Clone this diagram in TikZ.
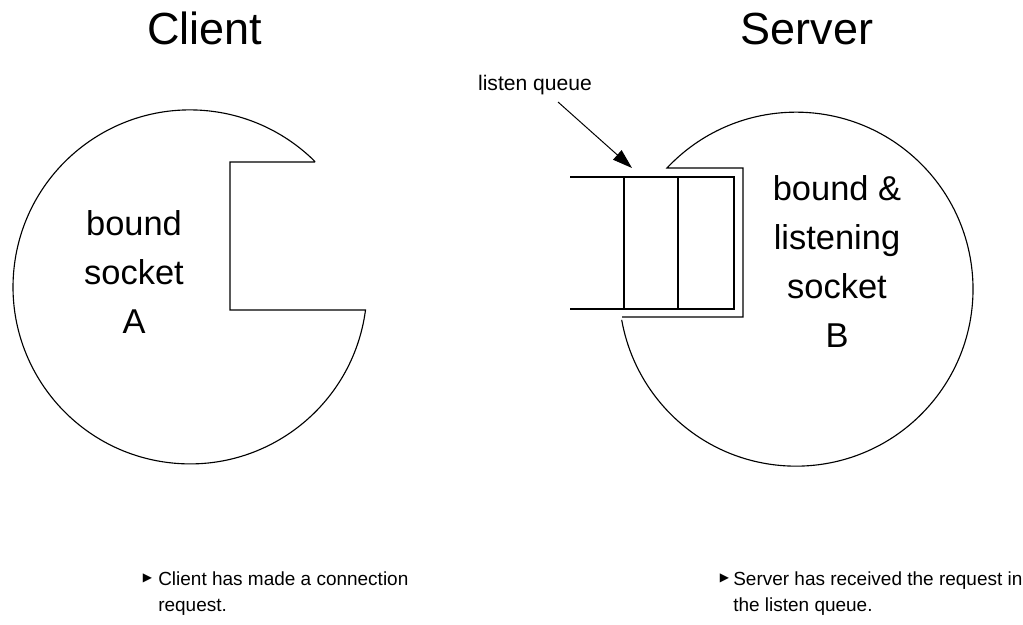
\documentclass[tikz,border=0pt]{standalone}
\usepackage{fontspec}
\setmainfont{Liberation Sans}
\newfontfamily\symfont{DejaVu Sans}
\usetikzlibrary{arrows.meta, positioning}
\tikzset{
  outline/.style={
      line width=0.8pt,
      line join=miter,
    },
  title_text/.style={
      font=\fontsize{32}{38}\selectfont,
      anchor=base, inner sep=0pt,
    },
  socket_text/.style={
      font=\fontsize{24.5}{34.7}\selectfont,
      align=center, anchor=base, inner sep=0pt,
    },
  queue_text/.style={
      font=\fontsize{15}{18}\selectfont,
      anchor=base, inner sep=0pt,
    },
  note_text/.style={
      font=\fontsize{13.5}{18.4}\selectfont,
      align=left, anchor=base west, inner sep=0pt,
    },
  note_bullet/.style={
      font=\symfont\fontsize{8.5}{10}\selectfont,
      inner sep=0pt,
    },
  pointer/.style={
      -{Triangle[length=14pt,width=9pt]},
      line width=0.7pt,
    },
}

\begin{document}
\begin{tikzpicture}[x=0.025cm, y=-0.025cm]
  \useasboundingbox (0,0) rectangle (1023,624);
  \node[title_text] (client_title) at (205,45) {Client};
  \node[title_text] (server_title) at (807,45) {Server};
  % client socket, notch cut into the right side
  \draw[outline] (315,162) -- (230,162) -- (230,310) -- (365.5,310)
    arc[start angle=7.5, end angle=315, radius=177];
  % base of a multi-line node sits on its last line
  \node[socket_text] (client_label) at (134,333) {bound\\socket\\A};
  % server socket wrapped round the queue
  \draw[outline] (622,317) -- (743,317) -- (743,168) -- (667,168)
    arc[start angle=-136.8, end angle=170, radius=177];
  \draw[outline] (570,177) -- (734,177) -- (734,309) -- (570,309);
  \foreach \cx in {624,678}
    \draw[outline] (\cx,177) -- (\cx,309);
  \node[socket_text] (server_label) at (837,347) {bound \&\\listening\\socket\\B};
  \node[queue_text] (queue_label) at (535,90) {listen queue};
  \coordinate (queue_tail) at (558,102);
  \coordinate (queue_head) at (632,168);
  \draw[pointer] (queue_tail) -- (queue_head);
  % notes
  \node[note_bullet] (client_bullet) at (147.5,578) {▶};
  \node[note_text] (client_note) at (158,611) {Client has made a connection\\request.};
  \node[note_bullet] (server_bullet) at (724.5,578) {▶};
  \node[note_text] (server_note) at (733,611) {Server has received the request in\\the listen queue.};
\end{tikzpicture}
\end{document}
